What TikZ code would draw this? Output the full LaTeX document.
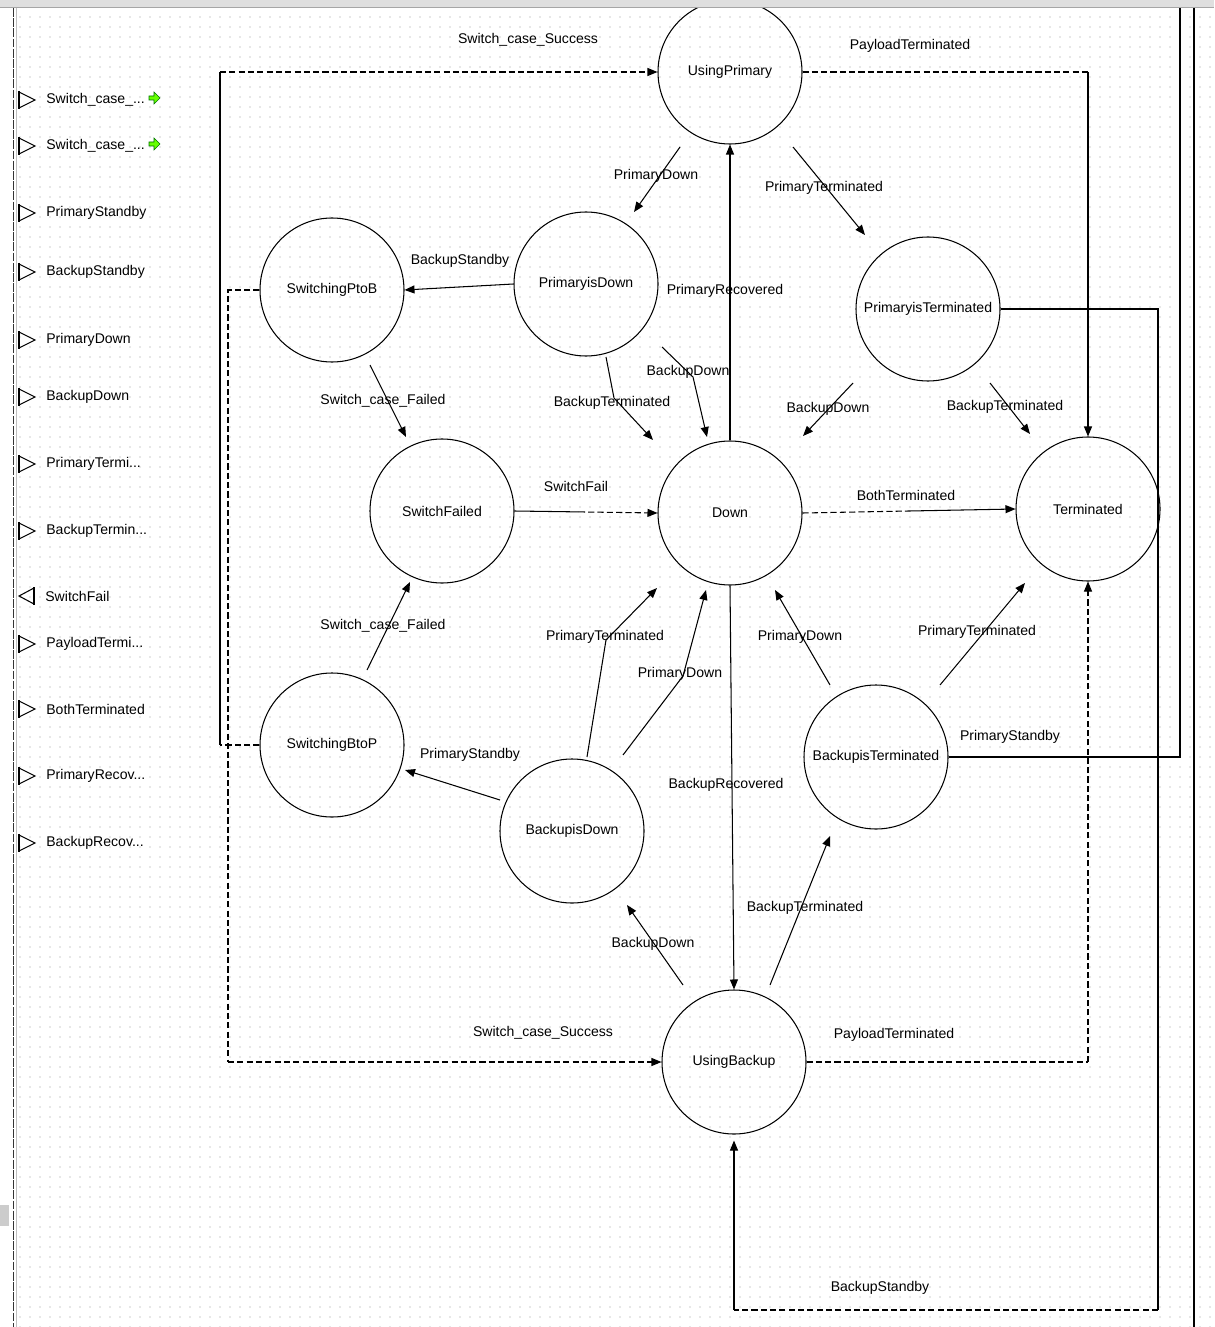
\documentclass[tikz,border=0pt]{standalone}
\usepackage{fontspec}
\setmainfont{Liberation Sans}
\usetikzlibrary{arrows.meta,calc,patterns.meta}
\newcommand\dddots{...}
\begin{document}
\begin{tikzpicture}[x=0.2mm,y=-0.2mm,
  state/.style={circle,draw,line width=0.6pt,minimum size=28.8mm,inner sep=0pt,font=\fontsize{8}{9}\selectfont},
  lbl/.style={font=\fontsize{8}{9}\selectfont,inner sep=0pt},
  ln/.style={line width=0.6pt},
  dsh/.style={dash pattern=on 3.5pt off 1.8pt},
  tr/.style={line width=0.6pt,-{Triangle[length=2mm,width=1.6mm]}}
]
\useasboundingbox (0,0) rectangle (1214,1327);
\fill[white] (0,0) rectangle (1214,1327);
\fill[pattern={Dots[distance=2mm,radius=0.35pt]},pattern color=black!40] (16,8) rectangle (1214,1327);

% states
\node[state] (UP)  at (730,72)   {UsingPrimary};
\node[state] (PD)  at (586,284)  {PrimaryisDown};
\node[state] (SPB) at (332,290)  {SwitchingPtoB};
\node[state] (PT)  at (928,309)  {PrimaryisTerminated};
\node[state] (SF)  at (442,511)  {SwitchFailed};
\node[state] (DN)  at (730,513)  {Down};
\node[state] (TM)  at (1088,509) {Terminated};
\node[state] (SBP) at (332,745)  {SwitchingBtoP};
\node[state] (BT)  at (876,757)  {BackupisTerminated};
\node[state] (BD)  at (572,831)  {BackupisDown};
\node[state] (UB)  at (734,1062) {UsingBackup};

% routed connectors
\coordinate (k1) at (220,745);
\coordinate (k2) at (220,72);
\draw[ln,dsh] (SBP.west) -- (k1);
\draw[ln] (k1) -- (k2);
\draw[tr,dsh] (k2) -- (UP.west);

\coordinate (k3) at (228,290);
\coordinate (k4) at (228,1062);
\draw[ln,dsh] (SPB.west) -- (k3) -- (k4);
\draw[tr,dsh] (k4) -- (UB.west);

\coordinate (k5) at (1088,72);
\draw[ln,dsh] (UP.east) -- (k5);
\draw[tr] (k5) -- (TM.north);

\coordinate (k6) at (1088,1062);
\draw[ln,dsh] (UB.east) -- (k6);
\draw[tr,dsh] (k6) -- (TM.south);

\coordinate (k7) at (1158,309);
\coordinate (k8) at (1158,1310);
\coordinate (k9) at (734,1310);
\draw[ln] (PT.east) -- (k7) -- (k8);
\draw[ln,dsh] (k8) -- (k9);
\draw[tr,shorten >=1.2mm] (k9) -- (UB.south);

\coordinate (k10) at (1180,757);
\coordinate (k11) at (1180,8);
\draw[ln] (BT.east) -- (k10) -- (k11);

% direct connectors
\draw[tr] ($(UP)+(-50,75)$) -- ($(PD)+(48,-72)$);
\draw[tr] ($(UP)+(63,75)$) -- ($(PT)+(-63,-74)$);
\draw[tr] (DN.north) -- (UP.south);
\draw[tr] (PD.west) -- (SPB.east);
\draw[tr] ($(PD)+(20,73)$) -- ($(PD)+(28,114)$) -- ($(DN)+(-77,-73)$);
\draw[tr] ($(PD)+(76,63)$) -- ($(PD)+(107,93)$) -- ($(DN)+(-23,-76)$);
\draw[tr] ($(PT)+(-75,74)$) -- ($(DN)+(73,-77)$);
\draw[tr] ($(PT)+(62,74)$) -- ($(TM)+(-58,-75)$);
\draw[tr] ($(SPB)+(38,75)$) -- ($(SF)+(-36,-74)$);
\coordinate (m1) at ($(SF.east)!0.45!(DN.west)$);
\draw[ln] (SF.east) -- (m1);
\draw[tr,dsh] (m1) -- (DN.west);
\coordinate (m2) at ($(DN.east)!0.5!(TM.west)$);
\draw[ln,dsh] (DN.east) -- (m2);
\draw[tr] (m2) -- (TM.west);
\draw[tr] ($(SBP)+(35,-75)$) -- ($(SF)+(-32,71)$);
\draw[tr] ($(BD)+(15,-74)$) -- ($(BD)+(34,-191)$) -- ($(DN)+(-73,75)$);
\draw[tr] ($(BD)+(51,-76)$) -- ($(BD)+(111,-155)$) -- ($(DN)+(-24,77)$);
\draw[tr] (DN.south) -- (UB.north);
\draw[tr] ($(BT)+(-46,-72)$) -- ($(DN)+(45,77)$);
\draw[tr] ($(BT)+(64,-72)$) -- ($(TM)+(-63,74)$);
\draw[tr] ($(BD)+(-72,-31)$) -- ($(SBP)+(73,25)$);
\draw[tr] ($(UB)+(-51,-77)$) -- ($(BD)+(55,74)$);
\draw[tr] ($(UB)+(36,-77)$) -- ($(BT)+(-46,79)$);

% transition labels
\node[lbl] (l1)  at (528,40)   {Switch\_case\_Success};
\node[lbl] (l2)  at (910,46)   {PayloadTerminated};
\node[lbl] (l3)  at (656,176)  {PrimaryDown};
\node[lbl] (l4)  at (824,188)  {PrimaryTerminated};
\node[lbl] (l5)  at (460,261)  {BackupStandby};
\node[lbl] (l6)  at (725,291)  {PrimaryRecovered};
\node[lbl] (l7)  at (688,372)  {BackupDown};
\node[lbl] (l8)  at (383,401)  {Switch\_case\_Failed};
\node[lbl] (l9)  at (612,403)  {BackupTerminated};
\node[lbl] (l10) at (828,409)  {BackupDown};
\node[lbl] (l11) at (1005,407) {BackupTerminated};
\node[lbl] (l12) at (576,486)  {SwitchFail};
\node[lbl] (l13) at (906,495)  {BothTerminated};
\node[lbl] (l14) at (383,626)  {Switch\_case\_Failed};
\node[lbl] (l15) at (605,637)  {PrimaryTerminated};
\node[lbl] (l16) at (800,637)  {PrimaryDown};
\node[lbl] (l17) at (977,632)  {PrimaryTerminated};
\node[lbl] (l18) at (680,674)  {PrimaryDown};
\node[lbl] (l19) at (1010,737) {PrimaryStandby};
\node[lbl] (l20) at (470,755)  {PrimaryStandby};
\node[lbl] (l21) at (726,785)  {BackupRecovered};
\node[lbl] (l22) at (805,908)  {BackupTerminated};
\node[lbl] (l23) at (653,944)  {BackupDown};
\node[lbl] (l24) at (543,1033) {Switch\_case\_Success};
\node[lbl] (l25) at (894,1035) {PayloadTerminated};
\node[lbl] (l26) at (880,1288) {BackupStandby};

% port list (inputs)
\foreach \yy/\lab [count=\i] in {100/{Switch\_case\_\dddots}, 146/{Switch\_case\_\dddots}, 213/{PrimaryStandby}, 272/{BackupStandby}, 340/{PrimaryDown}, 397/{BackupDown}, 464/{PrimaryTermi\dddots}, 531/{BackupTermin\dddots}, 644/{PayloadTermi\dddots}, 709/{BothTerminated}, 776/{PrimaryRecov\dddots}, 843/{BackupRecov\dddots}}{
  \draw[ln] (19,\yy-9) -- (19,\yy+9);
  \draw[ln] (19,\yy-8) -- (35,\yy) -- (19,\yy+8);
  \node[lbl,anchor=west] (p\i) at (46,\yy) {\lab};
}
% output port
\draw[ln] (34,587) -- (34,605);
\draw[ln] (34,588) -- (19,596) -- (34,604);
\node[lbl,anchor=west] (pout) at (45,596) {SwitchFail};
% green icons
\foreach \yy in {98,144}{
  \filldraw[fill=green!60!yellow,draw=green!45!black,line width=0.3pt]
    (149,\yy-2) -- (154,\yy-2) -- (154,\yy-6) -- (160,\yy) -- (154,\yy+6) -- (154,\yy+2) -- (149,\yy+2) -- cycle;
}

% frame
\fill[gray!25] (0,0) rectangle (1214,7);
\draw[gray!70,line width=0.6pt] (0,7.5) -- (1214,7.5);
\draw[gray!50,line width=0.8pt] (16.5,8) -- (16.5,1327);
\draw[black!80,line width=1.1pt,dash pattern=on 5pt off 0.8pt] (13.5,8) -- (13.5,1327);
\draw[ln] (1194,8) -- (1194,1327);
\fill[gray!40] (0,1205) rectangle (9,1226);
\end{tikzpicture}
\end{document}
